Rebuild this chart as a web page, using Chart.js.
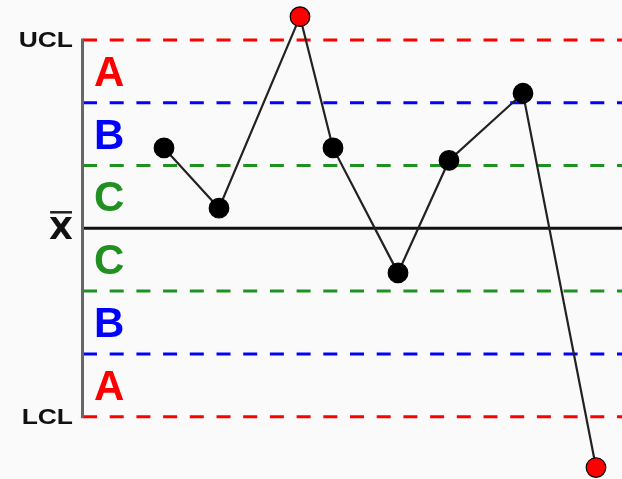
<!DOCTYPE html>
<html>
<head>
<meta charset="utf-8">
<script src="https://cdn.jsdelivr.net/npm/chart.js@4/dist/chart.umd.min.js"></script>
<style>
  html,body{margin:0;padding:0;background:#fafafa;}
  #wrap{width:622px;height:479px;}
</style>
</head>
<body>
<div id="wrap"><canvas id="c"></canvas></div>
<script>
// sample positions (x) and values in sigma units (y)
const sampleX = [16.4, 21.9, 30.0, 33.3, 39.8, 44.9, 52.3, 59.6];
const sampleY = [1.28, 0.32, 3.37, 1.28, -0.71, 1.08, 2.15, -3.81];
// control limits and zone boundaries
const zoneLevels = [3, 2, 1, -1, -2, -3];
const zoneColors = ['#ff0000', '#0000ff', '#209020', '#209020', '#0000ff', '#ff0000'];
const zoneLetters = ['A', 'B', 'C', 'C', 'B', 'A'];
const letterLevels = [2.5, 1.5, 0.5, -0.5, -1.5, -2.5];
const limitLabels = ['UCL', 'X', 'LCL'];
const limitLevels = [3, 0, -3];
const lineStart = 8.3, lineEnd = 62.2;

const $ = id => document.getElementById(id);
const outside = v => Math.abs(v) > 3;

const zoneSets = zoneLevels.map((v,i)=>({
  data:[{x:lineStart,y:v},{x:lineEnd,y:v}], showLine:true, pointRadius:0,
  borderColor:zoneColors[i], borderWidth:3, borderDash:[14,12.7], order:3
}));
const centerSet = {data:[{x:lineStart,y:0},{x:lineEnd,y:0}], showLine:true, pointRadius:0, borderColor:'#111', borderWidth:3, order:2};
const sampleSet = {
  data: sampleX.map((x,i)=>({x, y:sampleY[i]})), showLine:true,
  borderColor:'#222', borderWidth:2.2,
  pointRadius:9.8, pointBorderWidth:1.2, pointBorderColor:'#000',
  pointBackgroundColor: sampleY.map(v=>outside(v)?'#ff0000':'#000'), order:1
};

const decor = {
  id:'decor',
  beforeDraw(chart){
    const {ctx} = chart;
    ctx.save();
    ctx.fillStyle='#fafafa'; ctx.fillRect(0,0,chart.width,chart.height);
    ctx.restore();
  },
  afterDatasetsDraw(chart){
    const {ctx, scales:{x,y}} = chart;
    ctx.save();
    // left axis
    const ax = x.getPixelForValue(lineStart) - 0.5;
    ctx.strokeStyle='#666'; ctx.lineWidth=3;
    ctx.beginPath(); ctx.moveTo(ax, y.getPixelForValue(3)-1.5); ctx.lineTo(ax, y.getPixelForValue(-3)+1.5); ctx.stroke();
    // zone letters
    ctx.font='bold 42px "Liberation Sans", Arial, sans-serif';
    ctx.textAlign='left'; ctx.textBaseline='alphabetic';
    zoneLetters.forEach((t,i)=>{
      const m = ctx.measureText(t);
      ctx.fillStyle = zoneColors[i];
      ctx.fillText(t, 94, y.getPixelForValue(letterLevels[i]) + m.actualBoundingBoxAscent/2);
    });
    // limit labels (glyphs in the original are wide, so stretch horizontally)
    ctx.fillStyle='#111'; ctx.textAlign='right';
    limitLabels.forEach((t,i)=>{
      const isX = t==='X';
      ctx.font = isX ? 'bold 31px "DejaVu Sans", sans-serif' : 'bold 22px "Liberation Sans", Arial, sans-serif';
      const m = ctx.measureText(t);
      const py = y.getPixelForValue(limitLevels[i]) + m.actualBoundingBoxAscent/2;
      const rx = 73;
      if(isX){
        ctx.fillText(t, rx, py);
        ctx.strokeStyle='#222'; ctx.lineWidth=2.5;
        ctx.beginPath(); ctx.moveTo(rx-m.width+1, py-m.actualBoundingBoxAscent-5); ctx.lineTo(rx-1, py-m.actualBoundingBoxAscent-5); ctx.stroke();
      } else {
        ctx.save(); ctx.translate(rx, py); ctx.scale(1.2, 1);
        ctx.fillText(t, 0, 0);
        ctx.restore();
      }
    });
    ctx.restore();
  }
};

new Chart($('c'), {
  type:'scatter',
  data:{datasets:[sampleSet, centerSet, ...zoneSets]},
  options:{
    responsive:true, maintainAspectRatio:false, animation:false,
    layout:{padding:0, autoPadding:false},
    clip:false,
    plugins:{legend:{display:false}, tooltip:{enabled:false}},
    scales:{
      x:{type:'linear', min:0, max:62.2, display:false},
      y:{type:'linear', min:-3.992, max:3.635, display:false}
    }
  },
  plugins:[decor]
});
</script>
</body>
</html>
